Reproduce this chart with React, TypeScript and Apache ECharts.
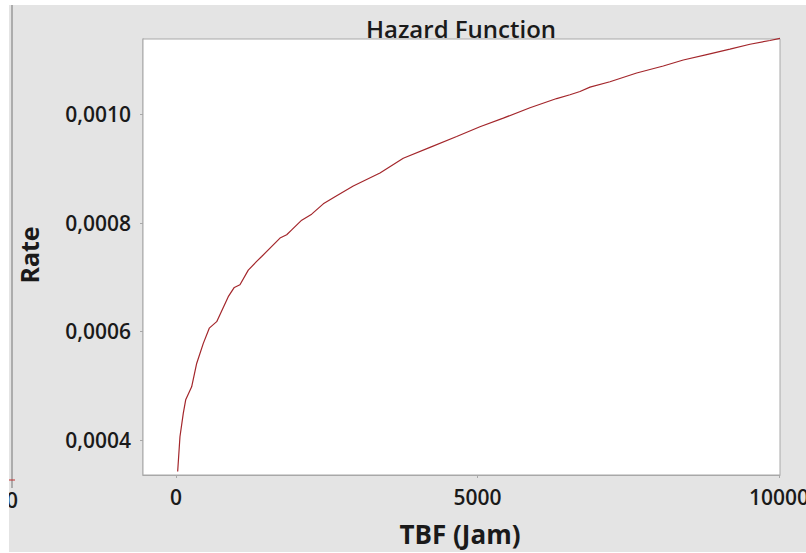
import React, { useEffect, useRef } from "react";
import * as echarts from "echarts";

// Hazard curve (TBF in hours, rate)
const tbf = [
  28, 66, 121, 161, 260, 343, 453, 552, 675, 867, 967, 1061, 1199, 1338, 1421,
  1725, 1836, 1919, 2085, 2250, 2443, 2637, 2940, 3383, 3769, 4212, 4655, 5041,
  5428, 5871, 6313, 6534, 6700, 6866, 7197, 7640, 8081, 8413, 8801, 9187, 9519,
  9851, 10017,
];
const rate = [
  0.000342, 0.000406, 0.000449, 0.000474, 0.000498, 0.000541, 0.000578,
  0.000606, 0.000618, 0.000664, 0.000681, 0.000686, 0.000713, 0.000729,
  0.000738, 0.000772, 0.000778, 0.000787, 0.000805, 0.000816, 0.000835,
  0.000848, 0.000868, 0.000892, 0.000919, 0.000939, 0.000959, 0.000977,
  0.000993, 0.001012, 0.001029, 0.001036, 0.001042, 0.00105, 0.00106,
  0.001076, 0.001089, 0.0011, 0.00111, 0.00112, 0.001129, 0.001136, 0.00114,
];
const xTicks = [0, 5000, 10000];
const yTicks = [0.0004, 0.0006, 0.0008, 0.001];
const chartTitle = "Hazard Function";
const xName = "TBF (Jam)";
const yName = "Rate";

const FONT = "'Open Sans', 'Noto Sans', sans-serif";

export default function App() {
  const ref = useRef<HTMLDivElement>(null);
  useEffect(() => {
    if (!ref.current) return;
    const chart = echarts.init(ref.current, null, { renderer: "svg" });
    const data = tbf.map((t, i) => [t, rate[i]]);
    chart.setOption({
      animation: false,
      backgroundColor: "#ffffff",
      grid: {
        left: 143,
        top: 39,
        width: 637,
        height: 436,
        show: true,
        backgroundColor: "#ffffff",
        borderColor: "#a8a8a8",
        borderWidth: 1,
        containLabel: false,
        outerBoundsMode: "none",
        z: 1,
      },
      xAxis: {
        type: "value",
        min: -547,
        max: 10017,
        splitLine: { show: false },
        axisLine: { show: true, onZero: false, lineStyle: { color: "#a8a8a8", width: 1 } },
        axisTick: { show: true, length: 3, lineStyle: { color: "#a8a8a8" }, customValues: xTicks },
        axisLabel: {
          customValues: xTicks,
          margin: 11,
          color: "#1a1a1a",
          fontFamily: FONT,
          fontWeight: 600,
          fontSize: 21,
          formatter: (v: number) => String(v),
        },
      },
      yAxis: {
        type: "value",
        min: 0.0003355,
        max: 0.0011387,
        splitLine: { show: false },
        axisLine: { show: true, onZero: false, lineStyle: { color: "#c4c4c4", width: 2 } },
        axisTick: { show: true, length: 3, lineStyle: { color: "#a8a8a8" }, customValues: yTicks },
        axisLabel: {
          customValues: yTicks,
          margin: 12,
          color: "#1a1a1a",
          fontFamily: FONT,
          fontWeight: 600,
          fontSize: 21,
          formatter: (v: number) => v.toFixed(4).replace(".", ","),
        },
      },
      series: [
        {
          type: "line",
          data,
          showSymbol: false,
          symbol: "none",
          clip: false,
          lineStyle: { color: "#a3262b", width: 1.2 },
          z: 5,
        },
      ],
      graphic: [
        { type: "rect", z: -10, shape: { x: 9, y: 5, width: 797, height: 547 }, style: { fill: "#e4e4e4" } },
        { type: "line", z: 10, shape: { x1: 12, y1: 5, x2: 12, y2: 488 }, style: { stroke: "#9a9a9a", lineWidth: 1.5 } },
        { type: "line", z: 10, shape: { x1: 9, y1: 480, x2: 15, y2: 480 }, style: { stroke: "#c03030", lineWidth: 1 } },
        {
          type: "text",
          z: 10,
          x: 12,
          y: 489,
          style: { text: "0", fill: "#1a1a1a", font: `600 21px ${FONT}`, textAlign: "center", textVerticalAlign: "top" },
        },
        { type: "rect", z: 20, shape: { x: 0, y: 0, width: 9, height: 553 }, style: { fill: "#ffffff" } },
        {
          type: "text",
          z: 10,
          x: 461,
          y: 28,
          style: { text: chartTitle, fill: "#1a1a1a", font: `600 24px ${FONT}`, textAlign: "center", textVerticalAlign: "middle" },
        },
        {
          type: "text",
          z: 10,
          x: 460,
          y: 534,
          style: { text: xName, fill: "#1a1a1a", font: `bold 26px ${FONT}`, textAlign: "center", textVerticalAlign: "middle" },
        },
        {
          type: "text",
          z: 10,
          x: 29,
          y: 255,
          rotation: Math.PI / 2,
          style: { text: yName, fill: "#1a1a1a", font: `bold 25px ${FONT}`, textAlign: "center", textVerticalAlign: "middle" },
        },
      ],
    });
    return () => chart.dispose();
  }, []);
  return (
    <div
      ref={ref}
      style={{ position: "absolute", left: 0, top: 0, width: 806, height: 553 }}
    />
  );
}
